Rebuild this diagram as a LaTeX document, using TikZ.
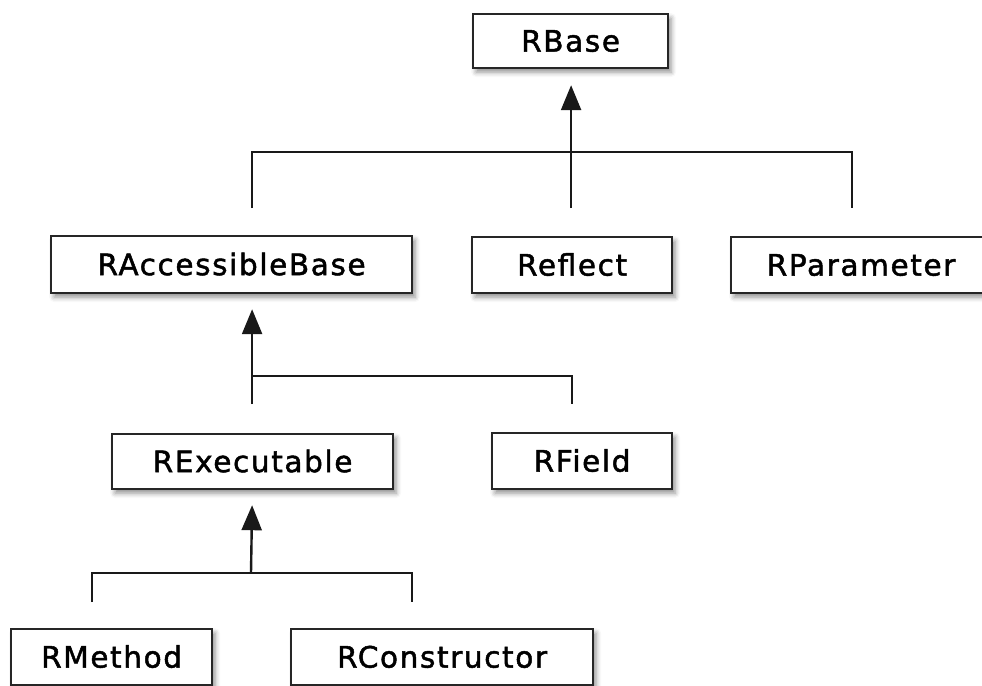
\documentclass[tikz,border=0pt]{standalone}
\usepackage{fontspec}
\setmainfont{DejaVu Sans}
\newfontfamily\clsfont[LetterSpace=5.5,FakeBold=1.6]{DejaVu Sans}
\usetikzlibrary{arrows.meta,shadows.blur,calc}
\begin{document}
\begin{tikzpicture}[x=1pt,y=-1pt,
  cls/.style={draw=black!85, line width=2.2pt, fill=white, inner sep=0pt,
    anchor=north west, text height=21pt, text depth=0pt,
    font=\clsfont\fontsize{29.5}{34}\selectfont,
    blur shadow={shadow xshift=3pt, shadow yshift=-4pt, shadow blur radius=5pt, shadow opacity=45}},
  conn/.style={draw=black!90, line width=2.4pt},
  inh/.style={conn, -{Triangle[length=25pt,width=20pt]}}]
\useasboundingbox (0,0) rectangle (982,685);
\begin{scope}
\clip (0,0) rectangle (982,685);
% classes
\node[cls, minimum width=195pt, minimum height=54pt] (rbase) at (472,13) {RBase};
\node[cls, minimum width=361pt, minimum height=57pt] (racc) at (50,235) {RAccessibleBase};
\node[cls, minimum width=200pt, minimum height=56pt] (reflect) at (471,236) {Reflect};
\node[cls, minimum width=260pt, minimum height=56pt] (rparam) at (730,236) {RParameter};
\node[cls, minimum width=281pt, minimum height=55pt] (rexec) at (111,433) {RExecutable};
\node[cls, minimum width=180pt, minimum height=56pt] (rfield) at (491,432) {RField};
\node[cls, minimum width=201pt, minimum height=56pt] (rmethod) at (10,628) {RMethod};
\node[cls, minimum width=302pt, minimum height=56pt] (rcons) at (290,628) {RConstructor};
% level 1 connectors
\coordinate (tipA) at ([xshift=0.5pt,yshift=-16pt]rbase.south);
\coordinate (sA1) at ([xshift=20.5pt,yshift=27pt]racc.north);
\coordinate (sA2) at ([xshift=-1pt,yshift=28pt]reflect.north);
\coordinate (sA3) at ([xshift=-9pt,yshift=28pt]rparam.north);
\coordinate (barA) at (570,152);
\draw[conn] (sA1) -- (sA1 |- barA) -- (sA3 |- barA) -- (sA3);
\draw[inh] (sA2) -- (tipA);
% level 2 connectors
\coordinate (tipB) at ([xshift=20.5pt,yshift=-15pt]racc.south);
\coordinate (sB1) at ([xshift=-0.5pt,yshift=29pt]rexec.north);
\coordinate (sB2) at ([xshift=-10pt,yshift=28pt]rfield.north);
\coordinate (barB) at (251,376);
\draw[conn] (sB1 |- barB) -- (sB2 |- barB) -- (sB2);
\draw[inh] (sB1) -- (tipB);
% level 3 connectors
\coordinate (tipC) at ([xshift=-0.5pt,yshift=-15pt]rexec.south);
\coordinate (sC1) at ([xshift=-19.5pt,yshift=26pt]rmethod.north);
\coordinate (sC2) at ([xshift=-30pt,yshift=26pt]rcons.north);
\coordinate (barC) at (251,573);
\draw[conn] (sC1) -- (sC1 |- barC) -- (sC2 |- barC) -- (sC2);
\draw[inh] (barC) -- (tipC);
\end{scope}
\end{tikzpicture}
\end{document}
